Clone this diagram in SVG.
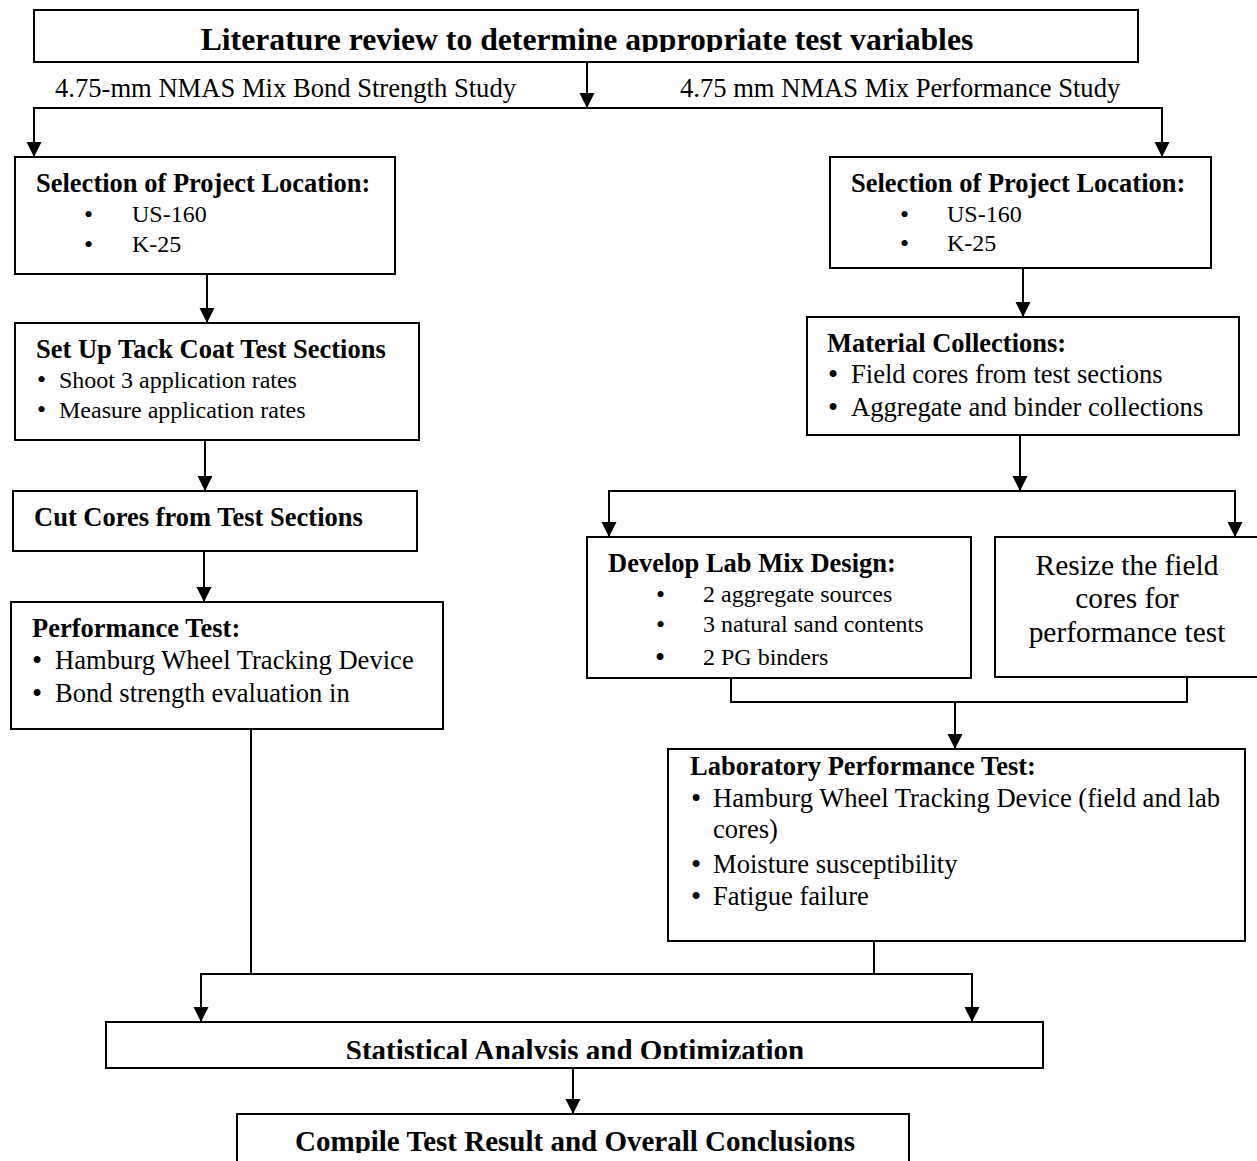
<svg xmlns="http://www.w3.org/2000/svg" width="1257" height="1161" viewBox="0 0 1257 1161">
<style>
.box{fill:#fff;stroke:#000;stroke-width:2}
.ln{fill:none;stroke:#000;stroke-width:2}
text{font-family:"Liberation Serif","Times New Roman",serif;fill:#000}
.h{font-weight:bold;font-size:26.5px}
.b{font-size:26.6px}
.s{font-size:24px}
.d{font-size:26px}
.big{font-weight:bold;font-size:29px}
.r{font-size:29.4px}
</style>
<defs>
<marker id="ah" markerUnits="userSpaceOnUse" markerWidth="16" markerHeight="16" refX="15" refY="7.5" orient="auto">
<path d="M0,0 L15,7.5 L0,15 z" fill="#000"/>
</marker>
<clipPath id="c1"><rect x="0" y="0" width="1257" height="52"/></clipPath>
<clipPath id="c2"><rect x="0" y="1000" width="1257" height="59"/></clipPath>
<clipPath id="c3"><rect x="0" y="1100" width="1257" height="53"/></clipPath>
</defs>

<g id="connectors">
<line class="ln" x1="587" y1="62" x2="587" y2="108" marker-end="url(#ah)"/>
<polyline class="ln" points="34,157 34,108 1162,108 1162,157" marker-end="url(#ah)"/>
<line class="ln" x1="34" y1="108" x2="34" y2="157" marker-end="url(#ah)"/>
<line class="ln" x1="207" y1="274" x2="207" y2="323" marker-end="url(#ah)"/>
<line class="ln" x1="205" y1="440" x2="205" y2="491" marker-end="url(#ah)"/>
<line class="ln" x1="204" y1="551" x2="204" y2="602" marker-end="url(#ah)"/>
<line class="ln" x1="1023" y1="268" x2="1023" y2="317" marker-end="url(#ah)"/>
<line class="ln" x1="1020" y1="435" x2="1020" y2="491" marker-end="url(#ah)"/>
<polyline class="ln" points="609,537 609,491 1235,491 1235,537" marker-end="url(#ah)"/>
<line class="ln" x1="609" y1="491" x2="609" y2="537" marker-end="url(#ah)"/>
<polyline class="ln" points="731,678 731,702 1187,702 1187,677"/>
<line class="ln" x1="955" y1="702" x2="955" y2="749" marker-end="url(#ah)"/>
<line class="ln" x1="251" y1="729" x2="251" y2="974"/>
<line class="ln" x1="874" y1="941" x2="874" y2="974"/>
<polyline class="ln" points="201,1022 201,974 972,974 972,1022" marker-end="url(#ah)"/>
<line class="ln" x1="201" y1="974" x2="201" y2="1022" marker-end="url(#ah)"/>
<line class="ln" x1="573" y1="1068" x2="573" y2="1114" marker-end="url(#ah)"/>
</g>

<g id="n-literature">
<rect class="box" x="34" y="10" width="1104" height="52"/>
<text clip-path="url(#c1)" x="587" y="50" text-anchor="middle" style="font-weight:bold;font-size:31.7px">Literature review to determine appropriate test variables</text>
</g>
<g id="label-bond"><text class="b" x="55" y="97">4.75-mm NMAS Mix Bond Strength Study</text></g>
<g id="label-perf"><text class="b" x="680" y="97">4.75 mm NMAS Mix Performance Study</text></g>

<g id="n-selection-left">
<rect class="box" x="15" y="157" width="380" height="117"/>
<text class="h" x="36" y="192">Selection of Project Location:</text>
<text class="d" x="84" y="223">•</text><text class="s" x="132" y="222">US-160</text>
<text class="d" x="84" y="253">•</text><text class="s" x="132" y="252">K-25</text>
</g>

<g id="n-tackcoat">
<rect class="box" x="15" y="323" width="404" height="117"/>
<text class="h" x="36" y="358">Set Up Tack Coat Test Sections</text>
<text class="d" x="37" y="388">•</text><text class="s" x="59" y="388">Shoot 3 application rates</text>
<text class="d" x="37" y="418">•</text><text class="s" x="59" y="418">Measure application rates</text>
</g>

<g id="n-cutcores">
<rect class="box" x="13" y="491" width="404" height="60"/>
<text class="h" x="34" y="526">Cut Cores from Test Sections</text>
</g>

<g id="n-perftest">
<rect class="box" x="11" y="602" width="432" height="127"/>
<text class="h" x="32" y="637">Performance Test:</text>
<text class="b" x="32" y="670" style="font-size:29px">•</text><text class="b" x="55" y="669">Hamburg Wheel Tracking Device</text>
<text class="b" x="32" y="703" style="font-size:29px">•</text><text class="b" x="55" y="702">Bond strength evaluation in</text>
</g>

<g id="n-selection-right">
<rect class="box" x="830" y="157" width="381" height="111"/>
<text class="h" x="851" y="192">Selection of Project Location:</text>
<text class="d" x="900" y="223">•</text><text class="s" x="947" y="222">US-160</text>
<text class="d" x="900" y="252">•</text><text class="s" x="947" y="251">K-25</text>
</g>

<g id="n-material">
<rect class="box" x="807" y="317" width="432" height="118"/>
<text class="h" x="827" y="352">Material Collections:</text>
<text class="b" x="828" y="384" style="font-size:29px">•</text><text class="b" x="851" y="383">Field cores from test sections</text>
<text class="b" x="828" y="417" style="font-size:29px">•</text><text class="b" x="851" y="416">Aggregate and binder collections</text>
</g>

<g id="n-labmix">
<rect class="box" x="587" y="537" width="384" height="141"/>
<text class="h" x="608" y="572">Develop Lab Mix Design:</text>
<text class="d" x="656" y="603">•</text><text class="s" x="703" y="602">2 aggregate sources</text>
<text class="d" x="656" y="633">•</text><text class="s" x="703" y="632">3 natural sand contents</text>
<text style="font-size:29px" x="655" y="667">•</text><text class="s" x="703" y="665">2 PG binders</text>
</g>

<g id="n-resize">
<rect class="box" x="995" y="537" width="270" height="140"/>
<text class="r" x="1127" y="575" text-anchor="middle">Resize the field</text>
<text class="r" x="1127" y="608" text-anchor="middle">cores for</text>
<text class="r" x="1127" y="642" text-anchor="middle">performance test</text>
</g>

<g id="n-labperf">
<rect class="box" x="668" y="749" width="577" height="192"/>
<text class="h" x="690" y="775">Laboratory Performance Test:</text>
<text class="b" x="691" y="808" style="font-size:29px">•</text><text class="b" x="713" y="807">Hamburg Wheel Tracking Device (field and lab</text>
<text class="b" x="713" y="838">cores)</text>
<text class="b" x="691" y="874" style="font-size:29px">•</text><text class="b" x="713" y="873">Moisture susceptibility</text>
<text class="b" x="691" y="906" style="font-size:29px">•</text><text class="b" x="713" y="905">Fatigue failure</text>
</g>

<g id="n-statistical">
<rect class="box" x="106" y="1022" width="937" height="46"/>
<text class="big" clip-path="url(#c2)" x="575" y="1060" text-anchor="middle">Statistical Analysis and Optimization</text>
</g>

<g id="n-compile">
<rect class="box" x="237" y="1114" width="672" height="60"/>
<text class="big" clip-path="url(#c3)" x="575" y="1151" text-anchor="middle">Compile Test Result and Overall Conclusions</text>
</g>
</svg>
